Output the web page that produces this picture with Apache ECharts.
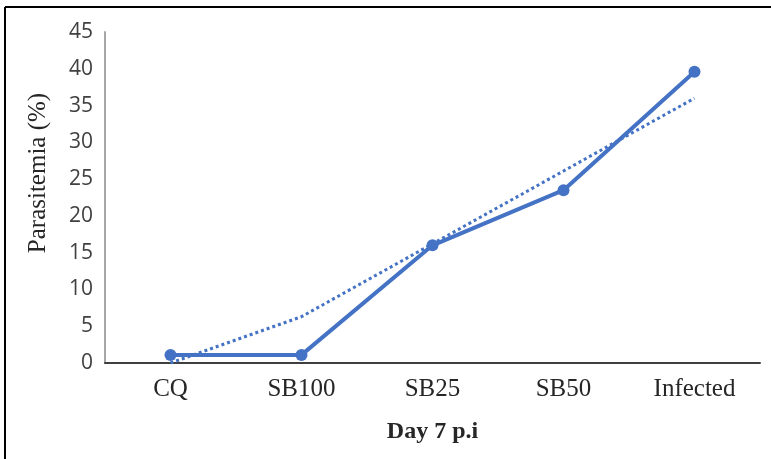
<!DOCTYPE html>
<html>
<head>
<meta charset="utf-8">
<script src="https://cdn.jsdelivr.net/npm/echarts@6/dist/echarts.min.js"></script>
<style>
  html, body { margin: 0; padding: 0; background: #fff; }
  #chart { width: 771px; height: 459px; }
</style>
</head>
<body>
<div id="chart"></div>
<script>
// Parasitemia on day 7 post-infection per treatment group
const groups = ['CQ', 'SB100', 'SB25', 'SB50', 'Infected'];
const parasitemia = [1.1, 1.1, 16.0, 23.5, 39.6];
// Linear trendline as drawn (held at the axis floor where it dips below zero)
const trendline = [0, 6.3, 16.2, 26.1, 36.0];
const yTicks = { min: 0, max: 45, interval: 5 };

const blue = '#4472C4';
const chart = echarts.init(document.getElementById('chart'));

chart.setOption({
  animation: false,
  backgroundColor: '#fff',
  grid: { left: 105, right: 11, top: 32, bottom: 96, containLabel: false },
  xAxis: {
    type: 'category',
    data: groups,
    boundaryGap: true,
    axisLine: { show: true, lineStyle: { color: '#404040', width: 2 } },
    axisTick: { show: false },
    axisLabel: {
      margin: 14,
      fontFamily: 'Liberation Serif',
      fontSize: 25,
      color: '#262626'
    },
    name: 'Day 7 p.i',
    nameLocation: 'middle',
    nameGap: 57,
    nameTextStyle: {
      fontFamily: 'Liberation Serif',
      fontWeight: 'bold',
      fontSize: 24,
      color: '#262626'
    }
  },
  yAxis: {
    type: 'value',
    min: yTicks.min,
    max: yTicks.max,
    interval: yTicks.interval,
    splitLine: { show: false },
    axisLine: { show: true, lineStyle: { color: '#a6a6a6', width: 2 } },
    axisTick: { show: false },
    axisLabel: {
      margin: 12,
      fontFamily: 'Open Sans',
      fontSize: 21,
      color: '#404040'
    }
  },
  graphic: [
    { type: 'line', shape: { x1: 5, y1: 7, x2: 771, y2: 7 }, style: { stroke: '#000', lineWidth: 2 } },
    { type: 'line', shape: { x1: 5, y1: 7, x2: 5, y2: 459 }, style: { stroke: '#000', lineWidth: 2 } },
    {
      type: 'text',
      x: 38, y: 173,
      rotation: Math.PI / 2,
      style: {
        text: 'Parasitemia (%)',
        fontFamily: 'Liberation Serif',
        fontSize: 25,
        fill: '#262626',
        align: 'center',
        verticalAlign: 'middle'
      }
    }
  ],
  series: [
    {
      name: 'Parasitemia',
      type: 'line',
      data: parasitemia,
      symbol: 'circle',
      symbolSize: 12,
      itemStyle: { color: blue },
      lineStyle: { color: blue, width: 4 },
      z: 3
    },
    {
      name: 'Linear trend',
      type: 'line',
      data: trendline,
      symbol: 'none',
      lineStyle: { color: blue, width: 3, type: [3, 3] },
      z: 2
    }
  ]
});
</script>
</body>
</html>
